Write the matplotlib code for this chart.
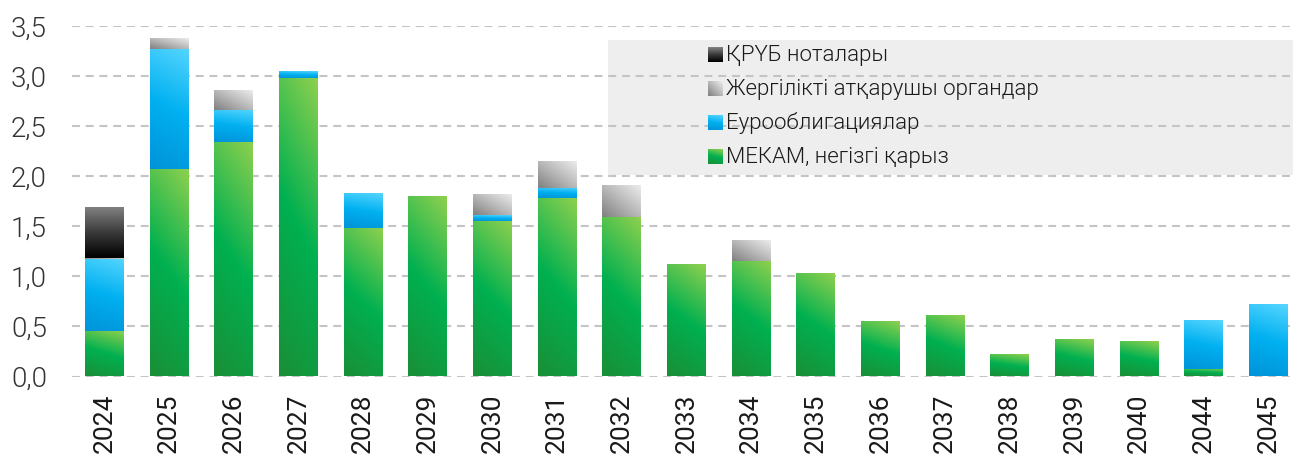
import numpy as np
import matplotlib
matplotlib.use("Agg")
import matplotlib.pyplot as plt
from matplotlib.colors import LinearSegmentedColormap

years = ["2024", "2025", "2026", "2027", "2028", "2029", "2030", "2031", "2032", "2033",
         "2034", "2035", "2036", "2037", "2038", "2039", "2040", "2044", "2045"]
mekam = [0.455, 2.075, 2.345, 2.985, 1.485, 1.795, 1.555, 1.785, 1.595, 1.115,
         1.155, 1.025, 0.545, 0.605, 0.215, 0.365, 0.345, 0.075, 0.0]
euro = [0.72, 1.20, 0.32, 0.06, 0.34, 0.0, 0.055, 0.10, 0.0, 0.0,
        0.0, 0.0, 0.0, 0.0, 0.0, 0.0, 0.0, 0.48, 0.715]
local = [0.01, 0.10, 0.19, 0.0, 0.0, 0.0, 0.205, 0.26, 0.31, 0.0,
         0.20, 0.0, 0.0, 0.0, 0.0, 0.0, 0.0, 0.0, 0.0]
notes = [0.505, 0.0, 0.0, 0.0, 0.0, 0.0, 0.0, 0.0, 0.0, 0.0,
         0.0, 0.0, 0.0, 0.0, 0.0, 0.0, 0.0, 0.0, 0.0]
labels = ["ҚРҮБ ноталары", "Жергілікті атқарушы органдар",
          "Еурооблигациялар", "МЕКАМ, негізгі қарыз"]

font = "Roboto"

# gradient styles: colours bottom->top and weight of horizontal component
styles = {
    "green": (["#1a8f37", "#00b050", "#8ed04e"], 0.2),
    "blue": (["#0093d9", "#00b0f0", "#55d5ff"], 0.15),
    "gray": (["#808080", "#b8b8b8", "#ececec"], 0.5),
    "black": (["#000000", "#3a3a3a", "#808080"], 0.0),
}


def grad(kind, nx=40, ny=80):
    cols, hw = styles[kind]
    cmap = LinearSegmentedColormap.from_list(kind, cols)
    u, v = np.meshgrid(np.linspace(0, 1, nx), np.linspace(0, 1, ny))
    t = (1 - hw) * v + hw * u
    return cmap(t)


fig = plt.figure(figsize=(12.93, 4.57), dpi=100)
ax = fig.add_axes([72 / 1293, 80.5 / 457, 1 - 72 / 1293, 350.5 / 457])

x = np.arange(len(years))
w = 0.6
bottom = np.zeros(len(years))
for vals, kind in [(mekam, "green"), (euro, "blue"), (local, "gray"), (notes, "black")]:
    vals = np.array(vals)
    bars = ax.bar(x, vals, w, bottom=bottom, color="none", edgecolor="none", zorder=3)
    for b, h in zip(bars, vals):
        if h <= 0:
            continue
        x0, y0 = b.get_x(), b.get_y()
        ax.imshow(grad(kind), extent=(x0, x0 + b.get_width(), y0, y0 + h),
                  origin="lower", aspect="auto", interpolation="bilinear", zorder=3)
    bottom += vals

ax.set_xlim(-0.5, 18.38)
ax.set_ylim(0, 3.5)
ax.set_yticks(np.arange(0, 3.51, 0.5))
ax.set_yticklabels([f"{v:.1f}".replace(".", ",") for v in np.arange(0, 3.51, 0.5)],
                   fontsize=20, fontfamily=font, fontweight=300, color="#333333")
ax.set_xticks(x)
ax.set_xticklabels(years, rotation=90, fontsize=19, fontfamily=font, fontweight="normal",
                   color="#1a1a1a")
ax.tick_params(axis="y", length=0, pad=18)
ax.tick_params(axis="x", length=0, pad=12)
for s in ax.spines.values():
    s.set_visible(False)
ax.yaxis.grid(True, color="#c4c4c4", linewidth=1.5, linestyle=(0, (3.8, 2.8)), zorder=1)
ax.set_axisbelow(True)

# legend box
ax.add_patch(plt.Rectangle((0.439, 0.575), 0.561, 0.385, transform=ax.transAxes,
                           facecolor="#eeeeee", edgecolor="none", zorder=0.5))
rows = [55, 89, 123, 157]
kinds = ["black", "gray", "blue", "green"]
for lab, kind, py in zip(labels, kinds, rows):
    yc = (376.5 - py) / 350.5
    mx0 = (708 - 72) / 1221
    mx1 = (723 - 72) / 1221
    hh = 7.5 / 350.5
    ax.imshow(grad(kind, 20, 20), extent=(mx0, mx1, yc - hh, yc + hh),
              transform=ax.transAxes, origin="lower", aspect="auto",
              interpolation="bilinear", zorder=4)
    ax.text((726 - 72) / 1221, yc, lab, transform=ax.transAxes, va="center", ha="left",
            fontsize=16, fontfamily=font, fontweight=300, color="#1a1a1a", zorder=4)

ax.set_xlim(-0.5, 18.38)
ax.set_ylim(0, 3.5)
fig.savefig("out.png", dpi=100)
